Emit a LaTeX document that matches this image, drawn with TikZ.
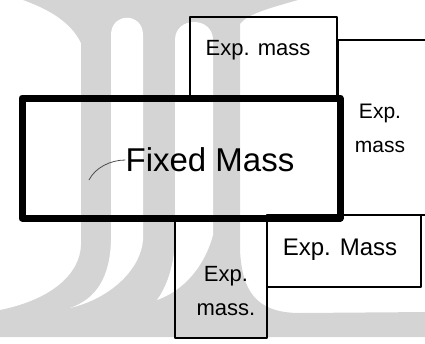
\documentclass[tikz,border=0pt]{standalone}
\usepackage{xcolor}
\usepackage{fontspec}
\setmainfont{Liberation Sans}
\usepackage{tikz}

\definecolor{wmgray}{RGB}{212,212,212}
\tikzset{
    wmark/.style={fill=wmgray, draw=none},
    gapfill/.style={fill=white, draw=none},
    thinwall/.style={line width=2.2pt, line cap=round, line join=round},
    fixedwall/.style={line width=7pt, line cap=round, line join=round},
    masstext/.style={font=\fontsize{22}{34}\selectfont, align=center, inner sep=0pt}
}

\begin{document}
\begin{tikzpicture}[x=1pt, y=-1pt]
            \useasboundingbox (0,0) rectangle (425,343);
            \clip (0,0) rectangle (425,343);

            % watermark behind the sketch
            \fill[wmark] (20,-5) -- (300,-5) -- (298,0) .. controls (270,8) and (247,14) .. (240,24)
                -- (240,250) .. controls (242,290) and (255,313) .. (300,313) -- (430,312)
                -- (430,337) -- (-5,337) -- (-5,310) -- (0,310)
                .. controls (50,300) and (80,275) .. (81,245) -- (81,43)
                .. controls (70,20) and (45,8) .. (23,0) -- cycle;
            \fill[gapfill] (111,35) .. controls (111,12) and (143,12) .. (143,35) -- (143,240)
                .. controls (141,268) and (112,298) .. (70,308)
                .. controls (96,299) and (110,278) .. (111,240) -- cycle;
            \fill[gapfill] (175,40) .. controls (175,16) and (213,16) .. (213,40) -- (213,235)
                .. controls (205,265) and (185,290) .. (157,300)
                .. controls (168,285) and (175,262) .. (175,235) -- cycle;

            \draw[thinwall] (190,17) rectangle (337,98);
            \draw[thinwall] (338,40) rectangle (430,215);
            \draw[thinwall] (175,218) rectangle (267,338);
            \draw[thinwall] (267,215) rectangle (421,287);
            \draw[fixedwall] (22,98) rectangle (340,218);

            \node[masstext, font=\fontsize{33}{36}\selectfont] (fixedtxt) at (210,160) {Fixed Mass};
            \node[masstext] (toptxt) at (258,50) {Exp. mass};
            \node[masstext, font=\fontsize{21}{34}\selectfont] (righttxt) at (380,128) {Exp.\\mass};
            \node[masstext] (lowtxt) at (226,291) {Exp.\\mass.};
            \node[masstext, font=\fontsize{24}{30}\selectfont] (cornertxt) at (340,250) {Exp. Mass};

            \draw[line width=0.8pt, black!70] (89,180) .. controls (95,168) and (110,160) .. (fixedtxt.west);
\end{tikzpicture}
\end{document}
